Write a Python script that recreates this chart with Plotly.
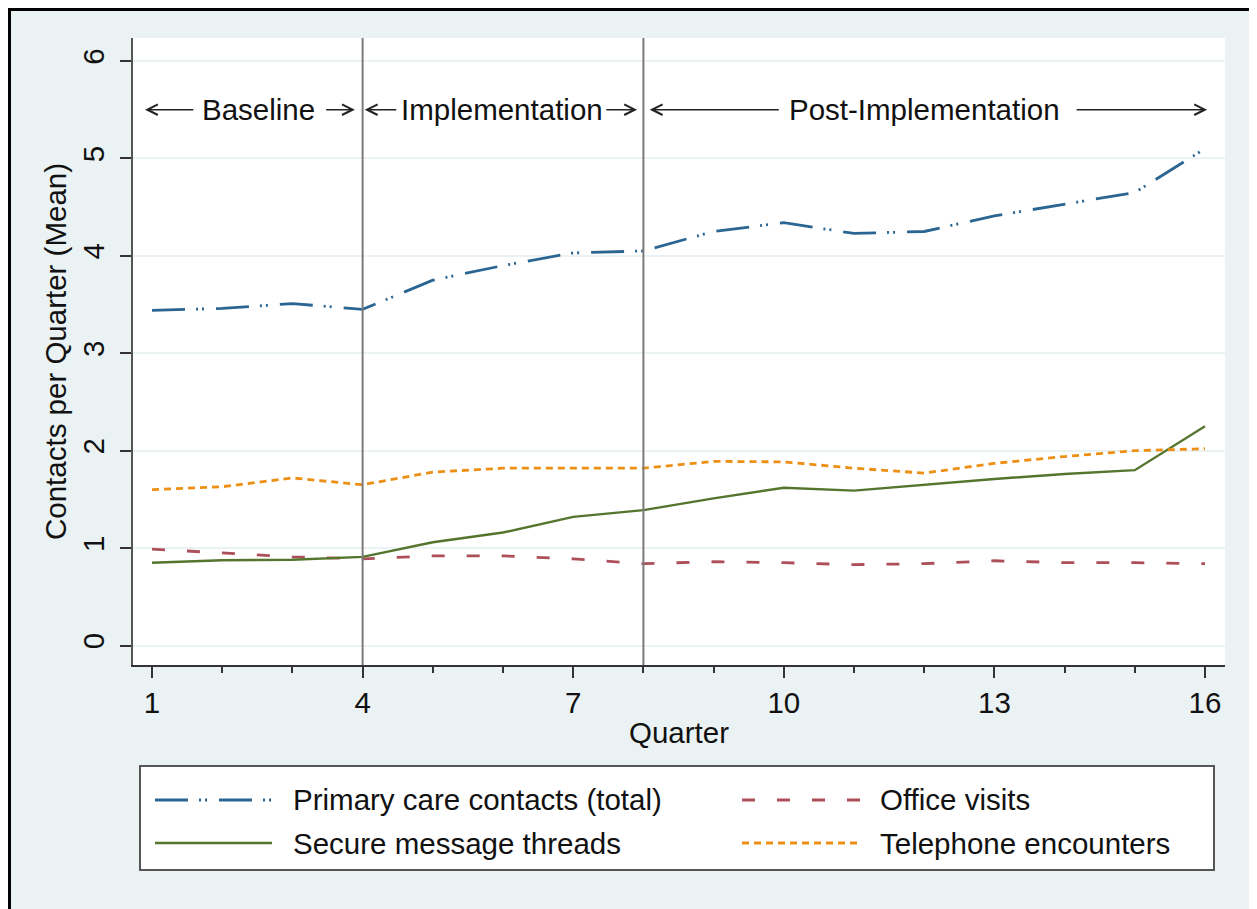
import plotly.graph_objects as go

# ---------------- data ----------------
quarters = list(range(1, 17))
primary_total = [3.44, 3.46, 3.51, 3.45, 3.75, 3.90, 4.03, 4.05, 4.25, 4.34, 4.23, 4.25, 4.41, 4.53, 4.65, 5.10]
office_visits = [0.99, 0.95, 0.91, 0.89, 0.92, 0.92, 0.89, 0.84, 0.86, 0.85, 0.83, 0.84, 0.87, 0.85, 0.85, 0.84]
secure_messages = [0.85, 0.875, 0.88, 0.91, 1.06, 1.16, 1.32, 1.39, 1.51, 1.62, 1.59, 1.65, 1.71, 1.76, 1.80, 2.25]
telephone = [1.60, 1.63, 1.72, 1.65, 1.78, 1.82, 1.82, 1.82, 1.89, 1.885, 1.82, 1.77, 1.87, 1.94, 2.00, 2.02]

series_names = ["Primary care contacts (total)", "Office visits",
                "Secure message threads", "Telephone encounters"]
series_values = [primary_total, office_visits, secure_messages, telephone]

phase_labels = ["Baseline", "Implementation", "Post-Implementation"]
phase_boundaries = [4, 8]

x_tickvals = [1, 4, 7, 10, 13, 16]
y_tickvals = [0, 1, 2, 3, 4, 5, 6]

# ---------------- styles ----------------
colors = ["#2b6592", "#ad4f58", "#55752f", "#ec8f14"]
dashes = ["33px,11px,2px,4px,2px,12px", "13px,22px", "solid", "7px,5px"]
widths = [2.8, 2.8, 2.4, 2.8]

FONT = "Liberation Sans, Arial, Helvetica, sans-serif"
FS = 29.5
OFF = 8  # page body margin
W, H = 1257 - OFF, 909 - OFF
L, R, T, B = 133 - OFF, 32, 38 - OFF, 244
PW, PH = W - L - R, H - T - B


def px_x(px):
    """page pixel x -> paper coordinate"""
    return (px - OFF - L) / PW


def px_y(py):
    """page pixel y -> paper coordinate"""
    return (H - B - (py - OFF)) / PH


fig = go.Figure()
for name, vals, c, d, w in zip(series_names, series_values, colors, dashes, widths):
    fig.add_trace(go.Scatter(x=quarters, y=vals, mode="lines", name=name,
                             line=dict(color=c, dash=d, width=w), showlegend=False))

shapes = []
# phase boundary lines
for b in phase_boundaries:
    shapes.append(dict(type="line", xref="x", yref="paper", x0=b, x1=b, y0=0, y1=1,
                       line=dict(color="#7a7a7a", width=2), layer="above"))

# phase annotations with arrows
phase_text_x = [2.51, 5.99, 12.0]
arrow_specs = [  # (head, tail) pairs per phase: left arrow, right arrow
    ((0.90, 1.61), (3.89, 3.46)),
    ((4.03, 4.50), (7.91, 7.45)),
    ((8.09, 9.95), (16.03, 14.15)),
]
arrow_y = 5.5
annotations = []
for lab, tx, arrows in zip(phase_labels, phase_text_x, arrow_specs):
    annotations.append(dict(x=tx, y=arrow_y, xref="x", yref="y", text=lab, showarrow=False,
                            font=dict(family=FONT, size=FS, color="#111")))
    for head, tail in arrows:
        annotations.append(dict(x=head, y=arrow_y, ax=tail, ay=arrow_y, xref="x", yref="y",
                                axref="x", ayref="y", text="", showarrow=True,
                                arrowhead=5, arrowsize=1.3, arrowwidth=1.6,
                                arrowcolor="#222", standoff=0, startstandoff=0))

# manual legend (box, samples, labels)
shapes.append(dict(type="rect", xref="paper", yref="paper",
                   x0=px_x(140), x1=px_x(1214), y0=px_y(870), y1=px_y(766),
                   line=dict(color="#555", width=2), fillcolor="white", layer="above"))
leg_cols = [(155, 272, 291), (742, 860, 878)]
leg_rows = [800, 843]
order = [(0, 0, 0), (1, 0, 1), (2, 1, 0), (3, 1, 1)]  # series idx, row, col
for si, r, cidx in order:
    x0, x1, xt = leg_cols[cidx]
    yy = px_y(leg_rows[r])
    shapes.append(dict(type="line", xref="paper", yref="paper", x0=px_x(x0), x1=px_x(x1),
                       y0=yy, y1=yy, layer="above",
                       line=dict(color=colors[si], dash=dashes[si], width=widths[si])))
    annotations.append(dict(x=px_x(xt), y=yy, xref="paper", yref="paper", xanchor="left",
                            yanchor="middle", text=series_names[si], showarrow=False,
                            font=dict(family=FONT, size=FS, color="#111")))

# outer frame (top and left edges)
shapes.append(dict(type="line", xref="paper", yref="paper", x0=px_x(9), x1=px_x(1270),
                   y0=px_y(9.5), y1=px_y(9.5), line=dict(color="black", width=3)))
shapes.append(dict(type="line", xref="paper", yref="paper", x0=px_x(9.5), x1=px_x(9.5),
                   y0=px_y(8), y1=px_y(920), line=dict(color="black", width=3)))

fig.update_layout(
    width=W, height=H,
    margin=dict(l=L, r=R, t=T, b=B, pad=0),
    paper_bgcolor="#eaf2f3", plot_bgcolor="white",
    font=dict(family=FONT, size=FS, color="#111"),
    shapes=shapes, annotations=annotations,
    showlegend=False,
)
fig.update_xaxes(range=[0.729, 16.285], tickvals=x_tickvals, ticks="outside", ticklen=11,
                 tickwidth=2, tickcolor="#333", showline=True, linecolor="#333", linewidth=2,
                 showgrid=False, zeroline=False,
                 minor=dict(dtick=1, tick0=1, ticks="outside", ticklen=6, tickwidth=2,
                            tickcolor="#333", showgrid=False),
                 tickfont=dict(size=FS, family=FONT),
                 title=dict(text="Quarter", font=dict(size=FS, family=FONT), standoff=4))
fig.update_yaxes(range=[-0.2, 6.236], tickvals=y_tickvals, ticks="outside", ticklen=11,
                 tickwidth=2, tickcolor="#333", showline=True, linecolor="#555", linewidth=2,
                 showgrid=True, gridcolor="#eaf2f3", gridwidth=2, zeroline=False,
                 tickangle=-90, ticklabelstandoff=4, tickfont=dict(size=FS, family=FONT),
                 title=dict(text="Contacts per Quarter (Mean)", font=dict(size=FS, family=FONT),
                            standoff=2))

fig.write_html("out.html")
